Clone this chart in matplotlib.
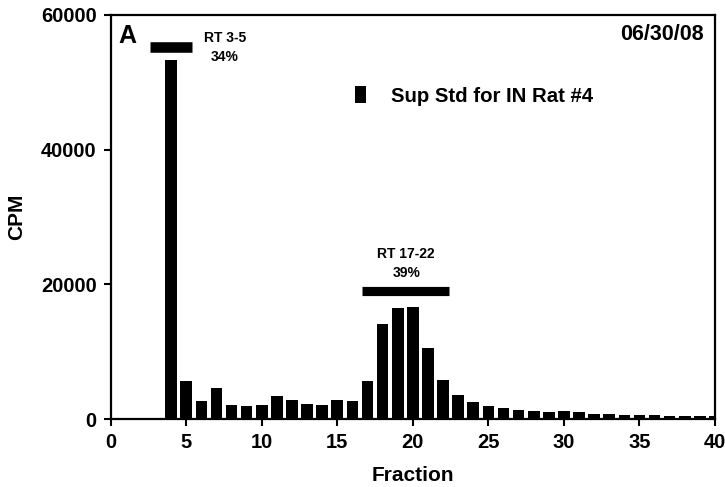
import matplotlib
matplotlib.use("Agg")
import matplotlib.pyplot as plt

plt.rcParams['font.family'] = ['Liberation Sans', 'DejaVu Sans']
plt.rcParams['font.weight'] = 'bold'

# Fraction numbers and measured counts
fractions = list(range(4, 41))
cpm = [53300, 5650, 2700, 4650, 2100, 1950, 2050, 3350, 2800, 2200,
       2100, 2750, 2700, 5700, 14100, 16500, 16700, 10600, 5800, 3550,
       2500, 2000, 1700, 1400, 1150, 1000, 1150, 1000, 750, 700,
       600, 600, 550, 500, 500, 450, 450]

series_label = "Sup Std for IN Rat #4"
panel_label = "A"
date_label = "06/30/08"

# Pooled fraction ranges: (first, last, level, name, percent)
rt_first = [3, 17]
rt_last = [5, 22]
rt_level = [55300, 19000]
rt_names = ["RT 3-5", "RT 17-22"]
rt_percent = ["34%", "39%"]

x_ticks = [0, 5, 10, 15, 20, 25, 30, 35, 40]
y_ticks = [0, 20000, 40000, 60000]

bar_w = 0.77

fig = plt.figure(figsize=(7.25, 4.87), dpi=100)
ax = fig.add_axes([0.1527, 0.1396, 0.9862 - 0.1527, 0.9692 - 0.1396])

ax.bar(fractions, cpm, width=bar_w, color='black', label=series_label, zorder=2)

# Range markers with their captions
lws = [7.6, 6.6]
for a, b, lvl, lw in zip(rt_first, rt_last, rt_level, lws):
    ax.hlines(lvl, a - bar_w / 2, b + bar_w / 2, colors='black', linewidth=lw,
              capstyle='butt', zorder=3)

ax.text(7.57, 56600, rt_names[0], ha='center', va='center', fontsize=10, fontweight='bold')
ax.text(7.57, 53800, rt_percent[0], ha='center', va='center', fontsize=10, fontweight='bold')
ax.text(19.56, 24500, rt_names[1], ha='center', va='center', fontsize=10, fontweight='bold')
ax.text(19.56, 21700, rt_percent[1], ha='center', va='center', fontsize=10, fontweight='bold')

ax.text(0.012, 0.948, panel_label, transform=ax.transAxes, ha='left', va='center',
        fontsize=18, fontweight='bold')
ax.text(0.982, 0.952, date_label, transform=ax.transAxes, ha='right', va='center',
        fontsize=15.5, fontweight='bold')

leg = ax.legend(loc='center left', bbox_to_anchor=(355 / 725, 1 - 96 / 487),
                bbox_transform=fig.transFigure, frameon=False,
                prop={'size': 14.7, 'weight': 'bold'}, handlelength=0.55,
                handleheight=0.85, handletextpad=1.2, borderpad=0, borderaxespad=0)

ax.set_xlim(0, 40)
ax.set_ylim(0, 60000)
ax.set_xticks(x_ticks)
ax.set_yticks(y_ticks)
ax.set_xticklabels([str(t) for t in x_ticks], fontsize=14.5, fontweight='bold')
ax.set_yticklabels([str(t) for t in y_ticks], fontsize=14.5, fontweight='bold')
ax.tick_params(axis='both', direction='out', length=5, width=1.5)
ax.tick_params(axis='x', pad=5)
ax.tick_params(axis='y', pad=5)

for sp in ax.spines.values():
    sp.set_linewidth(1.6)

ax.set_xlabel("Fraction", fontsize=15, fontweight='bold', labelpad=10)
ax.set_ylabel("CPM", fontsize=15, fontweight='bold', labelpad=11)

fig.savefig("out.png", dpi=100)
